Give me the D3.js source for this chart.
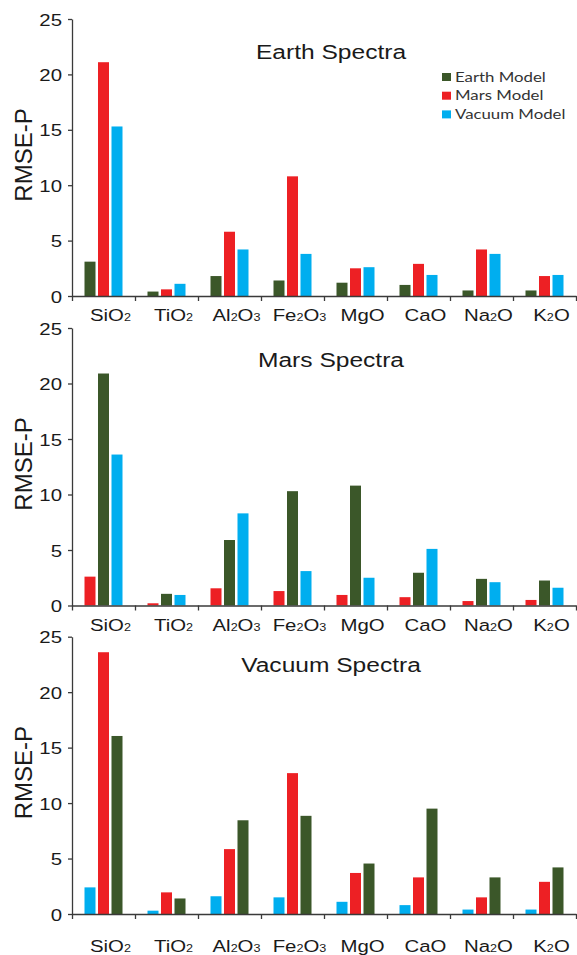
<!DOCTYPE html>
<html>
<head>
<meta charset="utf-8">
<script src="https://cdn.jsdelivr.net/npm/d3@7"></script>
<style>
  html, body { margin: 0; padding: 0; background: #fff; }
  svg { display: block; }
</style>
</head>
<body>
<svg id="chart" width="577" height="955"></svg>
<script>
// ---------- DATA ----------
const categories = ["SiO2", "TiO2", "Al2O3", "Fe2O3", "MgO", "CaO", "Na2O", "K2O"];
const yTicks = [0, 5, 10, 15, 20, 25];
const models = ["Earth Model", "Mars Model", "Vacuum Model"];

// Earth Spectra panel
const earthSpectraEarthModel  = [3.1, 0.4, 1.8, 1.4, 1.2, 1.0, 0.5, 0.5];
const earthSpectraMarsModel   = [21.1, 0.6, 5.8, 10.8, 2.5, 2.9, 4.2, 1.8];
const earthSpectraVacuumModel = [15.3, 1.1, 4.2, 3.8, 2.6, 1.9, 3.8, 1.9];

// Mars Spectra panel
const marsSpectraMarsModel    = [2.6, 0.2, 1.55, 1.3, 0.95, 0.75, 0.4, 0.5];
const marsSpectraEarthModel   = [20.9, 1.05, 5.9, 10.3, 10.8, 2.95, 2.4, 2.25];
const marsSpectraVacuumModel  = [13.6, 0.95, 8.3, 3.1, 2.5, 5.1, 2.1, 1.6];

// Vacuum Spectra panel
const vacuumSpectraVacuumModel = [2.4, 0.3, 1.6, 1.5, 1.1, 0.8, 0.4, 0.4];
const vacuumSpectraMarsModel   = [23.6, 1.95, 5.85, 12.7, 3.7, 3.3, 1.5, 2.9];
const vacuumSpectraEarthModel  = [16.05, 1.4, 8.45, 8.85, 4.55, 9.5, 3.3, 4.2];

const panelTitles = ["Earth Spectra", "Mars Spectra", "Vacuum Spectra"];

// ---------- BUILD PANEL TABLES ----------
const panels = [
  { title: panelTitles[0], series: [
      { model: "Earth Model", values: earthSpectraEarthModel },
      { model: "Mars Model", values: earthSpectraMarsModel },
      { model: "Vacuum Model", values: earthSpectraVacuumModel } ] },
  { title: panelTitles[1], series: [
      { model: "Mars Model", values: marsSpectraMarsModel },
      { model: "Earth Model", values: marsSpectraEarthModel },
      { model: "Vacuum Model", values: marsSpectraVacuumModel } ] },
  { title: panelTitles[2], series: [
      { model: "Vacuum Model", values: vacuumSpectraVacuumModel },
      { model: "Mars Model", values: vacuumSpectraMarsModel },
      { model: "Earth Model", values: vacuumSpectraEarthModel } ] }
];

// ---------- LAYOUT / STYLE ----------
const layout = [
  { top: 19,    bottom: 296,   titleDy: 40,   labelDy: 24.5 },
  { top: 328,   bottom: 605.5, titleDy: 38.7, labelDy: 25 },
  { top: 636.7, bottom: 914,   titleDy: 35,   labelDy: 38 }
];
const left = 72, right = 576;
const color = d3.scaleOrdinal(models, ["#3b5729", "#ed2024", "#00aeef"]);
const axisColor = "#3a3a3a";
const SX = 1.2; // horizontal stretch of the original figure's text

const svg = d3.select("#chart");

const xb = d3.scaleBand(categories, [left, right]).padding(0);
const groupW = 38;
const xIdx = d3.scaleLinear([0, categories.length], [left, right]);

function subLabel(sel, label) {
  // split into letters and digits for subscript
  const parts = label.match(/[A-Za-z]+|\d+/g);
  parts.forEach(p => {
    const t = sel.append("tspan").text(p);
    if (/\d/.test(p)) t.attr("font-size", 10.5);
  });
}

panels.forEach((panel, pi) => {
  const L = layout[pi];
  const y = d3.scaleLinear([0, 25], [L.bottom, L.top]);
  const order = panel.series.map(s => s.model);
  const xg = d3.scaleBand(order, [0, groupW]).paddingInner(0.185);

  const g = svg.append("g");

  // bars
  panel.series.forEach(s => {
    g.append("g").selectAll("rect")
      .data(s.values.map((v, i) => ({ cat: categories[i], v })))
      .join("rect")
      .attr("x", d => xb(d.cat) + (xb.bandwidth() - groupW) / 2 + xg(s.model))
      .attr("width", xg.bandwidth())
      .attr("y", d => y(d.v))
      .attr("height", d => y(0) - y(d.v))
      .attr("fill", color(s.model));
  });

  // y axis
  const ya = g.append("g")
    .attr("transform", `translate(${left},0)`)
    .call(d3.axisLeft(y).tickValues(yTicks).tickSize(4).tickSizeOuter(0));
  ya.select(".domain").attr("stroke", axisColor).attr("stroke-width", 1.3);
  ya.selectAll(".tick line").attr("stroke", axisColor).attr("stroke-width", 1.3);
  ya.selectAll(".tick text")
    .attr("x", null).attr("dy", null)
    .attr("transform", `translate(-10,6) scale(${SX},1)`)
    .attr("text-anchor", "end")
    .attr("font-family", "'Liberation Sans', Arial, sans-serif")
    .attr("font-size", 17)
    .attr("fill", "#1a1a1a");

  // x axis (ticks at category boundaries)
  const xa = g.append("g")
    .attr("transform", `translate(0,${L.bottom})`)
    .call(d3.axisBottom(xIdx).tickValues(d3.range(categories.length + 1))
      .tickSize(5).tickSizeOuter(0).tickFormat(""));
  xa.select(".domain").attr("stroke", axisColor).attr("stroke-width", 1.3);
  xa.selectAll(".tick line").attr("stroke", axisColor).attr("stroke-width", 1.3);

  // x category labels
  categories.forEach(c => {
    const t = g.append("text")
      .attr("transform", `translate(${xb(c) + xb.bandwidth() / 2 + 7},${L.bottom + L.labelDy}) scale(${SX},1)`)
      .attr("text-anchor", "middle")
      .attr("font-family", "'Liberation Sans', Arial, sans-serif")
      .attr("font-size", 17)
      .attr("fill", "#1a1a1a");
    subLabel(t, c);
  });

  // y axis title
  g.append("text")
    .attr("transform", `translate(32,${L.top + 136}) rotate(-90)`)
    .attr("text-anchor", "middle")
    .attr("font-family", "'Liberation Sans', Arial, sans-serif")
    .attr("font-size", 24)
    .attr("fill", "#1a1a1a")
    .text("RMSE-P");

  // panel title
  g.append("text")
    .attr("transform", `translate(331,${L.top + L.titleDy}) scale(1.17,1)`)
    .attr("text-anchor", "middle")
    .attr("font-family", "'Liberation Sans', Arial, sans-serif")
    .attr("font-size", 21)
    .attr("fill", "#1a1a1a")
    .text(panel.title);
});

// legend (top panel)
const leg = svg.append("g");
models.forEach((m, i) => {
  const yy = 73 + i * 18.7;
  leg.append("rect")
    .attr("x", 442).attr("y", yy).attr("width", 9).attr("height", 8)
    .attr("fill", color(m));
  leg.append("text")
    .attr("transform", `translate(455,${yy + 8.5}) scale(1.2,1)`)
    .attr("font-family", "Lato, 'Open Sans', sans-serif")
    .attr("font-size", 14)
    .attr("fill", "#333")
    .text(m);
});
</script>
</body>
</html>
